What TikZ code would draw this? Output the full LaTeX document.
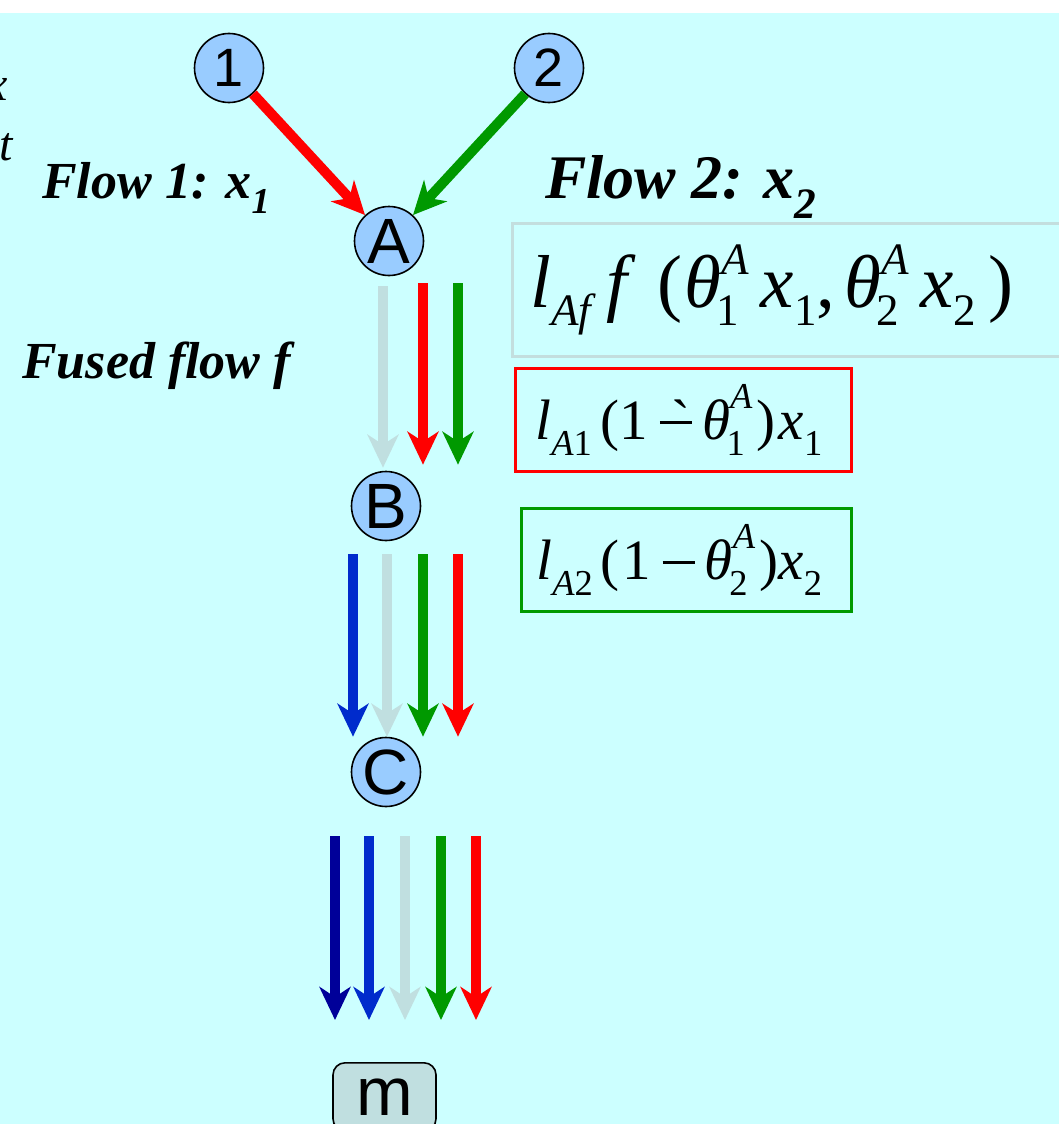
\documentclass[tikz,border=0pt]{standalone}
\usepackage{fontspec}
\setmainfont{Liberation Serif}
\newfontfamily\arialfont{Liberation Sans}
\newfontfamily\gravefont[Ligatures=TeXOff]{Liberation Serif}
\usetikzlibrary{arrows.meta, positioning}
\definecolor{bgcyan}{RGB}{204, 255, 255}
\definecolor{nodeblue}{RGB}{153, 204, 255}
\definecolor{paleflow}{RGB}{192, 223, 224}
\definecolor{navyflow}{RGB}{0, 0, 153}
\definecolor{blueflow}{RGB}{0, 43, 204}
\definecolor{greenflow}{RGB}{0, 153, 0}
\definecolor{redflow}{RGB}{255, 0, 0}
\definecolor{boxgray}{RGB}{195, 222, 222}
% sub- and superscripts set by hand in the text font
\def\scrscale{0.6}
\def\subdrop{0.24em}
\def\supraise{0.44em}
\newcommand{\lo}[1]{\raisebox{-\subdrop}{\scalebox{\scrscale}{#1}}}
\newcommand{\hilo}[2]{\rlap{\hspace{-0.06em}\raisebox{-\subdrop}{\scalebox{\scrscale}{\upshape #2}}}\raisebox{\supraise}{\scalebox{\scrscale}{\itshape #1}}}
\newcommand{\minusbar}{\rule[0.27em]{0.57em}{0.055em}}
\newcommand{\gravedminus}{\rlap{\hspace{0.2em}{\gravefont\upshape `}}\minusbar}
\tikzset{
  router/.style={circle, draw=black, line width=1.6pt, fill=nodeblue, minimum size=69pt, inner sep=0pt, font=\arialfont\fontsize{64}{64}\selectfont},
  srcnode/.style={router, font=\arialfont\fontsize{54}{54}\selectfont},
  sinkbox/.style={rectangle, rounded corners=12pt, draw=black, line width=1.6pt, fill=paleflow, minimum width=103pt, minimum height=68pt, inner sep=0pt, font=\arialfont\fontsize{68}{68}\selectfont},
  flowlabel/.style={font=\fontsize{52}{56}\selectfont\bfseries\itshape, inner sep=0pt, anchor=base west},
  edgetext/.style={font=\fontsize{48}{52}\selectfont\itshape, inner sep=0pt, anchor=base east},
  formula/.style={rectangle, line width=3pt, anchor=north west, font=\rmfamily\fontsize{57}{60}\selectfont, minimum height=103pt, inner ysep=0pt},
  arr/.style={-{Stealth[length=33pt, width=31pt, inset=10pt]}, line width=10pt}
}

\begin{document}
\begin{tikzpicture}[x=1pt, y=-1pt]

  \useasboundingbox (0,0) rectangle (1059,1124);
  \fill[white] (0,0) rectangle (1059,1124);
  \fill[bgcyan] (0,13) rectangle (1059,1124);

  % cut-off words at the left edge
  \node[edgetext] (cutx) at (8,100) {x};
  \node[edgetext] (cutt) at (13,160) {t};

  \node[srcnode] (s1) at (229,68) {1};
  \node[srcnode] (s2) at (549,68) {2};
  \node[router]  (A)  at (389,241) {A};
  \node[router]  (B)  at (386,506) {B};
  \node[router]  (C)  at (386,772) {C};
  \node[sinkbox, anchor=north] (m) at (384.5,1062) {m};

  \node[flowlabel] (flow1) at (42,198) {Flow 1: x\textsubscript{1}};
  \node[flowlabel, font=\fontsize{62}{66}\selectfont\bfseries\itshape] (flow2) at (545,198) {Flow 2: x\textsubscript{2}};
  \node[flowlabel] (fused) at (22,378) {Fused flow f};

  \node[formula, draw=boxgray, font=\rmfamily\fontsize{75}{80}\selectfont, minimum height=133pt,
        inner xsep=18pt] (ffused) at (511,222)
    {\makebox[530pt][l]{\itshape l\lo{Af}\hspace{0.2em}f\hspace{0.4em}\upshape(\hspace{0.03em}\itshape θ\hilo{A}{1}\hspace{0.16em}x\lo{\upshape 1}\upshape,\hspace{0.12em}\itshape θ\hilo{A}{2}\hspace{0.16em}x\lo{\upshape 2}\hspace{0.16em}\upshape)}};
  \node[formula, draw=redflow, inner xsep=20pt] (fone) at (514,367)
    {\def\scrscale{0.64}\def\subdrop{0.28em}\def\supraise{0.53em}%
     \makebox[296pt][l]{\itshape l\lo{\itshape A\upshape 1}\hspace{0.16em}\upshape(1\hspace{0.2em}\gravedminus\hspace{0.17em}\itshape θ\hilo{A}{1}\hspace{0.08em}\upshape)\hspace{0.05em}\itshape x\lo{\upshape 1}}};
  \node[formula, draw=greenflow, inner xsep=15pt] (ftwo) at (520,507)
    {\def\scrscale{0.64}\def\subdrop{0.28em}\def\supraise{0.53em}%
     \makebox[300pt][l]{\itshape l\lo{\itshape A\upshape 2}\hspace{0.14em}\upshape(\hspace{0.05em}1\hspace{0.2em}\minusbar\hspace{0.17em}\itshape θ\hilo{A}{2}\hspace{0.08em}\upshape)\itshape x\lo{\upshape 2}}};

  \draw[arr, redflow]   (s1) -- (A);
  \draw[arr, greenflow] (s2) -- (A);

  \draw[arr, paleflow]  ([xshift=-6pt, yshift=-10pt]A.south) -- ([xshift=-3pt, yshift=3pt]B.north);
  \draw[arr, redflow]   ([xshift=34pt, yshift=-7pt]A.south)  -- ([xshift=37pt, yshift=6pt]B.north);
  \draw[arr, greenflow] ([xshift=69pt, yshift=-7pt]A.south)  -- ([xshift=72pt, yshift=6pt]B.north);

  \draw[arr, blueflow]  ([xshift=-33pt, yshift=-13pt]B.south) -- ([xshift=-33pt]C.north);
  \draw[arr, paleflow]  ([xshift=1pt, yshift=-13pt]B.south)   -- ([xshift=1pt]C.north);
  \draw[arr, greenflow] ([xshift=37pt, yshift=-13pt]B.south)  -- ([xshift=37pt]C.north);
  \draw[arr, redflow]   ([xshift=72pt, yshift=-13pt]B.south)  -- ([xshift=72pt]C.north);

  \draw[arr, navyflow]  ([xshift=-51pt, yshift=-29pt]C.south) -- ([xshift=-49.5pt, yshift=42pt]m.north);
  \draw[arr, blueflow]  ([xshift=-17pt, yshift=-29pt]C.south) -- ([xshift=-15.5pt, yshift=42pt]m.north);
  \draw[arr, paleflow]  ([xshift=19pt, yshift=-29pt]C.south)  -- ([xshift=20.5pt, yshift=42pt]m.north);
  \draw[arr, greenflow] ([xshift=55pt, yshift=-29pt]C.south)  -- ([xshift=56.5pt, yshift=42pt]m.north);
  \draw[arr, redflow]   ([xshift=90pt, yshift=-29pt]C.south)  -- ([xshift=91.5pt, yshift=42pt]m.north);

\end{tikzpicture}
\end{document}
